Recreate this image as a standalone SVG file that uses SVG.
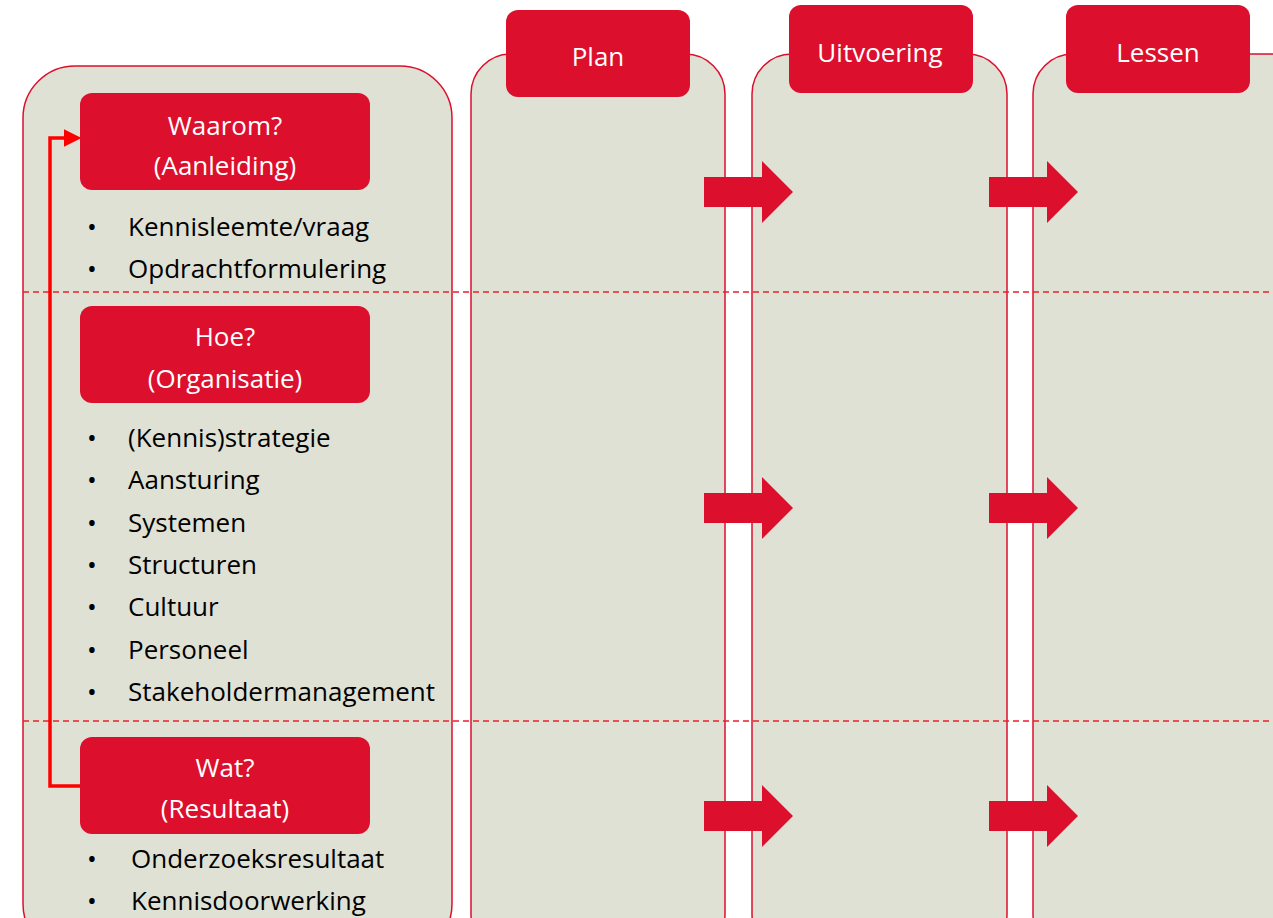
<svg xmlns="http://www.w3.org/2000/svg" width="1273" height="918" viewBox="0 0 1273 918">
<defs>
<style>
.panel{fill:#E0E1D5;stroke:#DC0F2D;stroke-width:1.5}
.box{fill:#DC0F2D}
.wt{fill:#fff;font-family:"Open Sans","Noto Sans",sans-serif;font-size:26px;text-anchor:middle}
.bt{fill:#000;font-family:"Open Sans","Noto Sans",sans-serif;font-size:26px}
.dash{stroke:#E8222A;stroke-width:1.3;stroke-dasharray:6,4;fill:none}
.barrow{fill:#DC0F2D}
</style>
<marker id="ah" markerWidth="5" markerHeight="5" refX="4" refY="2.5" orient="auto" markerUnits="strokeWidth">
<path d="M0,0 L5,2.5 L0,5 z" fill="#FF0000"/>
</marker>
<path id="blk" d="M0,-15 L58,-15 L58,-31 L89,0 L58,31 L58,15 L0,15 z"/>
</defs>
<rect width="1273" height="918" fill="#fff"/>
<g id="panel-left"><rect class="panel" x="23" y="66" width="429" height="890" rx="52"/></g>
<g id="panel-plan"><rect class="panel" x="471" y="54" width="254" height="900" rx="40"/></g>
<g id="panel-uitvoering"><rect class="panel" x="752" y="54" width="255" height="900" rx="40"/></g>
<g id="panel-lessen"><rect class="panel" x="1033" y="54" width="290" height="900" rx="40"/></g>
<g id="dividers">
<line class="dash" x1="23" y1="292" x2="1273" y2="292"/>
<line class="dash" x1="23" y1="721" x2="1273" y2="721"/>
</g>
<g id="header-plan"><rect class="box" x="506" y="10" width="184" height="87" rx="12"/><text class="wt" x="598" y="66">Plan</text></g>
<g id="header-uitvoering"><rect class="box" x="789" y="5" width="184" height="88" rx="12"/><text class="wt" x="880" y="62">Uitvoering</text></g>
<g id="header-lessen"><rect class="box" x="1066" y="5" width="184" height="88" rx="12"/><text class="wt" x="1158" y="62">Lessen</text></g>
<g id="waarom"><rect class="box" x="80" y="93" width="290" height="97" rx="12"/>
<text class="wt" x="225" y="135">Waarom?</text><text class="wt" x="225" y="175">(Aanleiding)</text></g>
<g id="waarom-list" class="bt">
<text x="87" y="236">•</text><text x="128" y="236">Kennisleemte/vraag</text>
<text x="87" y="278">•</text><text x="128" y="278">Opdrachtformulering</text>
</g>
<g id="hoe"><rect class="box" x="80" y="306" width="290" height="97" rx="12"/>
<text class="wt" x="225" y="346">Hoe?</text><text class="wt" x="225" y="388">(Organisatie)</text></g>
<g id="hoe-list" class="bt">
<text x="87" y="447">•</text><text x="128" y="447">(Kennis)strategie</text>
<text x="87" y="489">•</text><text x="128" y="489">Aansturing</text>
<text x="87" y="532">•</text><text x="128" y="532">Systemen</text>
<text x="87" y="574">•</text><text x="128" y="574">Structuren</text>
<text x="87" y="616">•</text><text x="128" y="616">Cultuur</text>
<text x="87" y="659">•</text><text x="128" y="659">Personeel</text>
<text x="87" y="701">•</text><text x="128" y="701">Stakeholdermanagement</text>
</g>
<g id="wat"><rect class="box" x="80" y="737" width="290" height="97" rx="12"/>
<text class="wt" x="225" y="777">Wat?</text><text class="wt" x="225" y="818">(Resultaat)</text></g>
<g id="wat-list" class="bt">
<text x="87" y="868">•</text><text x="131" y="868">Onderzoeksresultaat</text>
<text x="87" y="910">•</text><text x="131" y="910">Kennisdoorwerking</text>
</g>
<g id="connectors">
<path d="M80,786 L50,786 L50,138 L78,138" fill="none" stroke="#FF0000" stroke-width="3.5" marker-end="url(#ah)"/>
<use href="#blk" class="barrow" x="704" y="192"/>
<use href="#blk" class="barrow" x="989" y="192"/>
<use href="#blk" class="barrow" x="704" y="508"/>
<use href="#blk" class="barrow" x="989" y="508"/>
<use href="#blk" class="barrow" x="704" y="816"/>
<use href="#blk" class="barrow" x="989" y="816"/>
</g>
</svg>
